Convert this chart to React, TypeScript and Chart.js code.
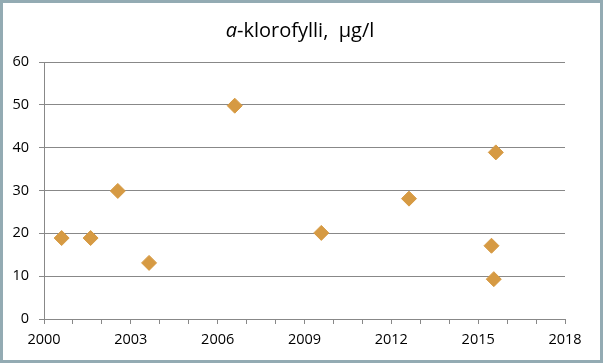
import React, { useEffect, useRef } from "react";
import { Chart, registerables } from "chart.js";

Chart.register(...registerables);

const TITLE_ITALIC = "a";
const TITLE_REST = "-klorofylli,  \u00b5g/l";

const years = [2000.61, 2001.61, 2002.55, 2003.63, 2006.59, 2009.58, 2012.61, 2015.46, 2015.54, 2015.61];
const values = [18.9, 18.9, 29.9, 13.1, 49.8, 20.1, 28.1, 17.1, 9.3, 38.9];

const xMin = 2000;
const xMax = 2018;
const xLabelStep = 3;
const yMin = 0;
const yMax = 60;
const yStep = 10;

const FONT = "'Open Sans', 'Noto Sans', sans-serif";
const GRID = "#888888";
const MARK = "#D69A43";

const framePlugin = {
  id: "frameAndTitle",
  afterDraw(chart: any) {
    const ctx = chart.ctx as CanvasRenderingContext2D;
    const w = chart.width;
    const h = chart.height;
    ctx.save();
    ctx.strokeStyle = "#93ABB3";
    ctx.lineWidth = 3;
    ctx.strokeRect(1.5, 1.5, w - 3, h - 3);

    ctx.fillStyle = "#000";
    ctx.textBaseline = "alphabetic";
    const italicFont = `italic 20px ${FONT}`;
    const normalFont = `20px ${FONT}`;
    ctx.font = italicFont;
    const w1 = ctx.measureText(TITLE_ITALIC).width;
    ctx.font = normalFont;
    const w2 = ctx.measureText(TITLE_REST).width;
    const start = 300 - (w1 + w2) / 2;
    const baseY = 37;
    ctx.textAlign = "left";
    ctx.font = italicFont;
    ctx.fillText(TITLE_ITALIC, start, baseY);
    ctx.font = normalFont;
    ctx.fillText(TITLE_REST, start + w1, baseY);
    ctx.restore();
  },
};

export default function App() {
  const ref = useRef<HTMLCanvasElement | null>(null);

  useEffect(() => {
    document.body.style.margin = "0";
    const canvas = ref.current;
    if (!canvas) return;
    const points = years.map((x, i) => ({ x, y: values[i] }));
    const chart = new Chart(canvas, {
      type: "scatter",
      data: {
        datasets: [
          {
            label: "a-klorofylli",
            data: points,
            pointStyle: "rectRot",
            pointRadius: 7.5,
            pointHoverRadius: 7.5,
            backgroundColor: MARK,
            borderColor: MARK,
            borderWidth: 1,
            showLine: false,
          },
        ],
      },
      options: {
        animation: false,
        responsive: false,
        devicePixelRatio: 1,
        layout: { padding: { left: 0, right: 38, top: 62, bottom: 0 } },
        plugins: {
          legend: { display: false },
          title: { display: false },
          tooltip: { enabled: false },
        },
        scales: {
          x: {
            type: "linear",
            min: xMin,
            max: xMax,
            afterFit(scale: any) {
              scale.height = 44;
            },
            ticks: {
              stepSize: 1,
              autoSkip: false,
              maxRotation: 0,
              padding: 7,
              color: "#000",
              font: { family: FONT, size: 14.5 },
              callback: (v: any) => ((Number(v) - xMin) % xLabelStep === 0 ? String(v) : ""),
            },
            grid: { drawOnChartArea: false, drawTicks: true, tickLength: 5, color: GRID },
            border: { display: true, color: GRID },
          },
          y: {
            min: yMin,
            max: yMax,
            afterFit(scale: any) {
              scale.width = 44;
            },
            ticks: {
              stepSize: yStep,
              padding: 10,
              color: "#000",
              font: { family: FONT, size: 14.5 },
            },
            grid: { drawOnChartArea: true, drawTicks: true, tickLength: 5, color: GRID },
            border: { display: true, color: GRID },
          },
        },
      },
      plugins: [framePlugin],
    });
    return () => chart.destroy();
  }, []);

  return <canvas ref={ref} width={603} height={363} style={{ display: "block", width: 603, height: 363 }} />;
}
